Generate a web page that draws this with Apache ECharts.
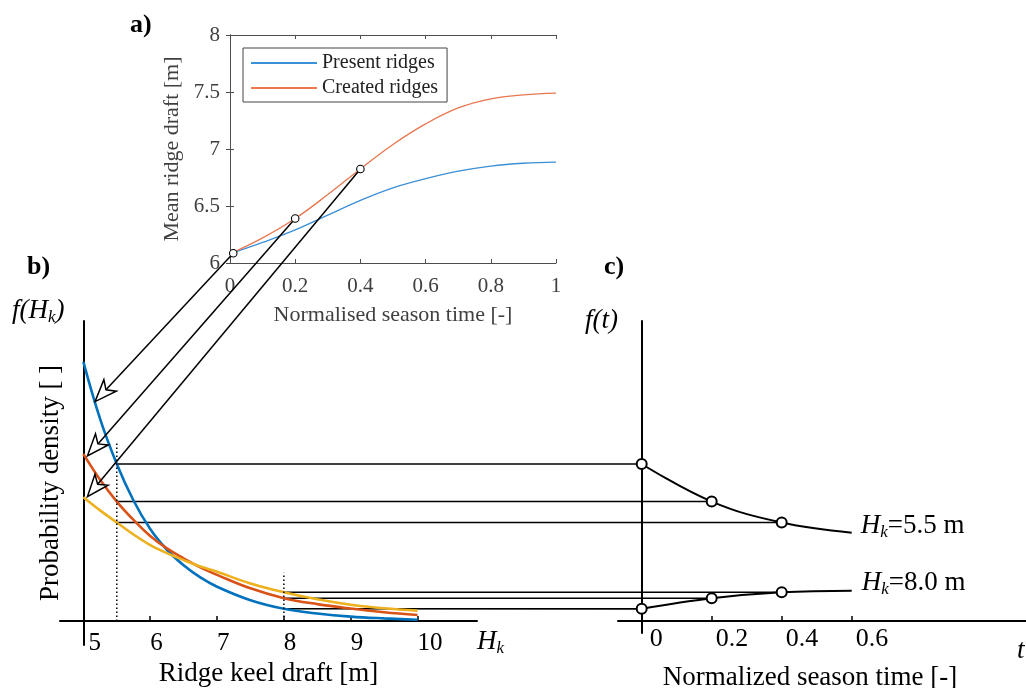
<!DOCTYPE html>
<html><head><meta charset="utf-8">
<script src="https://cdn.jsdelivr.net/npm/echarts@6/dist/echarts.min.js"></script>
<style>html,body{margin:0;padding:0;background:#fff}#c{width:1026px;height:688px}</style>
</head><body><div id="c"></div><script>
// ---- Panel a data ----
const seasonT = [0,0.1,0.2,0.3,0.4,0.5,0.6,0.7,0.8,0.9,1];
const presentRidges = [6.08,6.18,6.29,6.42,6.55,6.66,6.74,6.805,6.85,6.875,6.885];
const createdRidges = [6.08,6.22,6.39,6.60,6.825,7.04,7.22,7.36,7.44,7.475,7.49];
const markerT = [0.01,0.2,0.4];
const markerDraft = [6.085,6.39,6.825];
// ---- Panel b data ----
const keelDraft = [5,5.25,5.5,5.75,6,6.25,6.5,6.75,7,7.5,8,8.5,9,9.5,10];
const densityBlue = [1.00,0.78,0.606,0.465,0.355,0.275,0.215,0.168,0.132,0.08,0.047,0.029,0.017,0.01,0.005];
const densityOrange = [0.645,0.545,0.461,0.39,0.328,0.28,0.242,0.207,0.178,0.126,0.088,0.065,0.048,0.034,0.023];
const densityYellow = [0.478,0.427,0.38,0.334,0.293,0.262,0.235,0.21,0.19,0.145,0.111,0.084,0.063,0.049,0.04];
const arrowTipH = [5.175,5.06,5.06];
const arrowTipF = [0.847,0.637,0.48];
const dottedH = [5.5,8];
const dottedTop = [0.69,0.186];
const tickLabelsB = [5,6,7,8,9,10];
// ---- Panel c data ----
const timeC = [0,0.2,0.4,0.6];
const f55 = [0.606,0.461,0.38,0.341];
const f80 = [0.047,0.088,0.111,0.117];
const tickLabelsC = [0,0.2,0.4,0.6];

const FONT = 'Liberation Serif';
const zip = (a,b) => a.map((v,i)=>[v,b[i]]);
const chart = echarts.init(document.getElementById('c'), null, {renderer:'canvas'});
const AC = '#4d4d4d';
const MK = {color:'#fff', borderColor:'#000', opacity:1};

const option = {
  animation:false,
  backgroundColor:'#fff',
  grid:[
    {left:230, top:35, width:326, height:228, outerBoundsMode:'none', containLabel:false},
    {left:60, top:321, width:417, height:324, outerBoundsMode:'none', containLabel:false},
    {left:618, top:321, width:408, height:312, outerBoundsMode:'none', containLabel:false}
  ],
  legend:{
    data:['Present ridges','Created ridges'],
    orient:'vertical', left:243, top:48,
    itemWidth:66, itemHeight:2, itemGap:3, icon:'rect',
    padding:[4,9,3,8],
    borderColor:'#444', borderWidth:1, backgroundColor:'#fff',
    textStyle:{fontFamily:FONT, fontSize:20, color:'#222', lineHeight:22}
  },
  xAxis:[
    {gridIndex:0, type:'value', min:0, max:1, interval:0.2, position:'bottom',
     axisLine:{lineStyle:{color:AC, width:1}},
     axisTick:{inside:true, length:4, lineStyle:{color:AC}},
     axisLabel:{color:'#404040', fontFamily:FONT, fontSize:21, margin:13},
     splitLine:{show:false},
     name:'Normalised season time [-]', nameLocation:'middle', nameGap:41,
     nameTextStyle:{color:'#404040', fontFamily:FONT, fontSize:22}},
    {gridIndex:0, type:'value', min:0, max:1, interval:0.2, position:'top',
     axisLine:{lineStyle:{color:AC, width:1}},
     axisTick:{inside:true, length:4, lineStyle:{color:AC}},
     axisLabel:{show:false}, splitLine:{show:false}},
    {gridIndex:1, type:'value', min:4.65, max:10.89,
     axisLine:{onZero:true, lineStyle:{color:'#000', width:2}},
     axisTick:{inside:true, length:5, customValues:[6,7,8,9,10], lineStyle:{color:'#000', width:1.5}},
     axisLabel:{customValues:tickLabelsB, align:'left', margin:-14, color:'#000', fontFamily:FONT, fontSize:25,
       formatter:v => v===5 ? '{p|5}' : String(v),
       rich:{p:{padding:[0,0,0,5], color:'#000', fontFamily:FONT, fontSize:25}}},
     splitLine:{show:false},
     name:'Ridge keel draft [m]', nameLocation:'middle', nameGap:15,
     nameTextStyle:{color:'#000', fontFamily:FONT, fontSize:27}},
    {gridIndex:2, type:'value', min:-0.0677, max:1.098,
     axisLine:{onZero:true, lineStyle:{color:'#000', width:2}},
     axisTick:{inside:true, length:5, customValues:[0.2,0.4,0.6], lineStyle:{color:'#000', width:1.5}},
     axisLabel:{customValues:tickLabelsC, align:'left', margin:-7, color:'#000', fontFamily:FONT, fontSize:26,
       padding:[0,0,0,4],
       formatter:v => v===0 ? '{p|0}' : String(v),
       rich:{p:{padding:[0,0,0,4], color:'#000', fontFamily:FONT, fontSize:26}}},
     splitLine:{show:false},
     name:'Normalized season time [-]', nameLocation:'middle', nameGap:31,
     nameTextStyle:{color:'#000', fontFamily:FONT, fontSize:27, padding:[0,24,0,0]}}
  ],
  yAxis:[
    {gridIndex:0, type:'value', min:6, max:8, interval:0.5, position:'left',
     axisLine:{show:true, lineStyle:{color:AC, width:1}},
     axisTick:{show:true, inside:true, length:4, lineStyle:{color:AC}},
     axisLabel:{color:'#404040', fontFamily:FONT, fontSize:21, margin:10},
     splitLine:{show:false},
     name:'Mean ridge draft [m]', nameLocation:'middle', nameGap:47,
     nameTextStyle:{color:'#404040', fontFamily:FONT, fontSize:22}},
    {gridIndex:0, type:'value', min:6, max:8, interval:0.5, position:'right',
     axisLine:{show:true, lineStyle:{color:AC, width:1}},
     axisTick:{show:true, inside:true, length:4, lineStyle:{color:AC}},
     axisLabel:{show:false}, splitLine:{show:false}},
    {gridIndex:1, type:'value', min:-0.0927, max:1.158, offset:-23.3,
     axisLine:{show:true, onZero:false, lineStyle:{color:'#000', width:2}},
     axisTick:{show:false}, axisLabel:{show:false}, splitLine:{show:false},
     name:'Probability density [ ]', nameLocation:'middle', nameGap:19,
     nameTextStyle:{color:'#000', fontFamily:FONT, fontSize:27}},
    {gridIndex:2, type:'value', min:-0.0463, max:1.158, offset:-23.7,
     axisLine:{show:true, onZero:false, lineStyle:{color:'#000', width:2}},
     axisTick:{show:false}, axisLabel:{show:false}, splitLine:{show:false}}
  ],
  series:[
    {name:'Present ridges', type:'line', xAxisIndex:0, yAxisIndex:0, data:zip(seasonT,presentRidges),
     smooth:0.4, showSymbol:false, color:'#3b8fd6', lineStyle:{width:1.3}, silent:true},
    {name:'Created ridges', type:'line', xAxisIndex:0, yAxisIndex:0, data:zip(seasonT,createdRidges),
     smooth:0.4, showSymbol:false, color:'#e8764f', lineStyle:{width:1.3}, silent:true},
    {name:'markersA', type:'scatter', xAxisIndex:0, yAxisIndex:0, data:zip(markerT,markerDraft), z:10,
     symbol:'circle', symbolSize:7.5, itemStyle:Object.assign({borderWidth:1.1}, MK), silent:true},
    {name:'b1', type:'line', xAxisIndex:2, yAxisIndex:2, data:zip(keelDraft,densityBlue), smooth:0.4,
     showSymbol:false, color:'#0072BD', lineStyle:{width:2.6}, silent:true},
    {name:'b2', type:'line', xAxisIndex:2, yAxisIndex:2, data:zip(keelDraft,densityOrange), smooth:0.4,
     showSymbol:false, color:'#D95319', lineStyle:{width:2.6}, silent:true},
    {name:'b3', type:'line', xAxisIndex:2, yAxisIndex:2, data:zip(keelDraft,densityYellow), smooth:0.4,
     showSymbol:false, color:'#EDB120', lineStyle:{width:2.6}, silent:true},
    {name:'d1', type:'line', xAxisIndex:2, yAxisIndex:2, data:[[dottedH[0],0],[dottedH[0],dottedTop[0]]],
     showSymbol:false, color:'#000', lineStyle:{width:1.5, type:[1.5,2.5]}, silent:true},
    {name:'d2', type:'line', xAxisIndex:2, yAxisIndex:2, data:[[dottedH[1],0],[dottedH[1],dottedTop[1]]],
     showSymbol:false, color:'#000', lineStyle:{width:1.5, type:[1.5,2.5]}, silent:true},
    {name:'c55', type:'line', xAxisIndex:3, yAxisIndex:3, data:zip(timeC,f55), smooth:0.4,
     showSymbol:false, color:'#000', lineStyle:{width:2}, silent:true},
    {name:'c80', type:'line', xAxisIndex:3, yAxisIndex:3, data:zip(timeC,f80), smooth:0.4,
     showSymbol:false, color:'#000', lineStyle:{width:2}, silent:true},
    {name:'m55', type:'scatter', xAxisIndex:3, yAxisIndex:3, data:zip(timeC.slice(0,3),f55.slice(0,3)), z:10,
     symbolSize:10, itemStyle:Object.assign({borderWidth:2}, MK), silent:true},
    {name:'m80', type:'scatter', xAxisIndex:3, yAxisIndex:3, data:zip(timeC.slice(0,3),f80.slice(0,3)), z:10,
     symbolSize:10, itemStyle:Object.assign({borderWidth:2}, MK), silent:true}
  ]
};
chart.setOption(option);

const pa = p => chart.convertToPixel({seriesIndex:0}, p);
const pb = p => chart.convertToPixel({seriesIndex:3}, p);
const pc = p => chart.convertToPixel({seriesIndex:8}, p);
const g = [];

// arrows from panel a markers to panel b curves
for (let i = 0; i < 3; i++) {
  const S = pa([markerT[i], markerDraft[i]]);
  const T = pb([arrowTipH[i], arrowTipF[i]]);
  const dx = T[0]-S[0], dy = T[1]-S[1];
  const len = Math.hypot(dx,dy);
  const ux = dx/len, uy = dy/len, nx = -uy, ny = ux;
  const L = 22, W = 8.5, NB = 16;
  const bx = T[0]-L*ux, by = T[1]-L*uy;
  const notch = [T[0]-NB*ux, T[1]-NB*uy];
  g.push({type:'line', z:4, silent:true, shape:{x1:S[0], y1:S[1], x2:notch[0], y2:notch[1]},
    style:{stroke:'#000', lineWidth:1.5}});
  g.push({type:'polygon', z:4, silent:true,
    shape:{points:[T, [bx+W*nx, by+W*ny], notch, [bx-W*nx, by-W*ny]]},
    style:{fill:'#fff', stroke:'#000', lineWidth:1.5, lineJoin:'miter'}});
}
// connectors from panel b to panel c
for (let i = 0; i < 3; i++) {
  const S1 = pb([dottedH[0], f55[i]]), E1 = pc([timeC[i], f55[i]]);
  g.push({type:'line', z:3, silent:true, shape:{x1:S1[0], y1:S1[1], x2:E1[0], y2:E1[1]}, style:{stroke:'#000', lineWidth:1.6}});
  const S2 = pb([dottedH[1], f80[i]]), E2 = pc([timeC[i], f80[i]]);
  g.push({type:'line', z:3, silent:true, shape:{x1:S2[0], y1:S2[1], x2:E2[0], y2:E2[1]}, style:{stroke:'#000', lineWidth:1.6}});
}

// text helpers
const cvs = document.createElement('canvas').getContext('2d');
function tw(t, size, italic, bold){ cvs.font = (italic?'italic ':'') + (bold?'bold ':'') + size + 'px "' + FONT + '"'; return cvs.measureText(t).width; }
function richText(parts, x, yc) {
  let cx = x;
  parts.forEach(p => {
    g.push({type:'text', z:6, silent:true, x:cx, y:yc + (p.dy||0),
      style:{text:p.t, fontSize:p.size, fontFamily:FONT, fontStyle:p.italic?'italic':'normal',
        fontWeight:p.bold?'bold':'normal', fill:'#000', align:'left', verticalAlign:'middle',
        textAlign:'left', textVerticalAlign:'middle'}});
    cx += tw(p.t, p.size, p.italic, p.bold) + (p.gap||0);
  });
}
richText([{t:'a)', size:26, bold:true}], 130, 25);
richText([{t:'b)', size:26, bold:true}], 27, 267);
richText([{t:'c)', size:26, bold:true}], 604, 267);
richText([{t:'f(H', size:27, italic:true}, {t:'k', size:17, italic:true, dy:7}, {t:')', size:27, italic:true}], 12, 311);
richText([{t:'H', size:27, italic:true}, {t:'k', size:17, italic:true, dy:7}], 477, 642);
richText([{t:'f(t)', size:27, italic:true}], 585, 321);
richText([{t:'t', size:27, italic:true}], 1017, 651);
const e55 = pc([timeC[3], f55[3]]);
const e80 = pc([timeC[3], f80[3]]);
richText([{t:'H', size:27, italic:true}, {t:'k', size:17, italic:true, dy:7}, {t:'=5.5 m', size:27}], e55[0]+9, e55[1]-7);
richText([{t:'H', size:27, italic:true}, {t:'k', size:17, italic:true, dy:7}, {t:'=8.0 m', size:27}], e80[0]+10, e80[1]-8);

chart.setOption({graphic: g});
</script></body></html>
